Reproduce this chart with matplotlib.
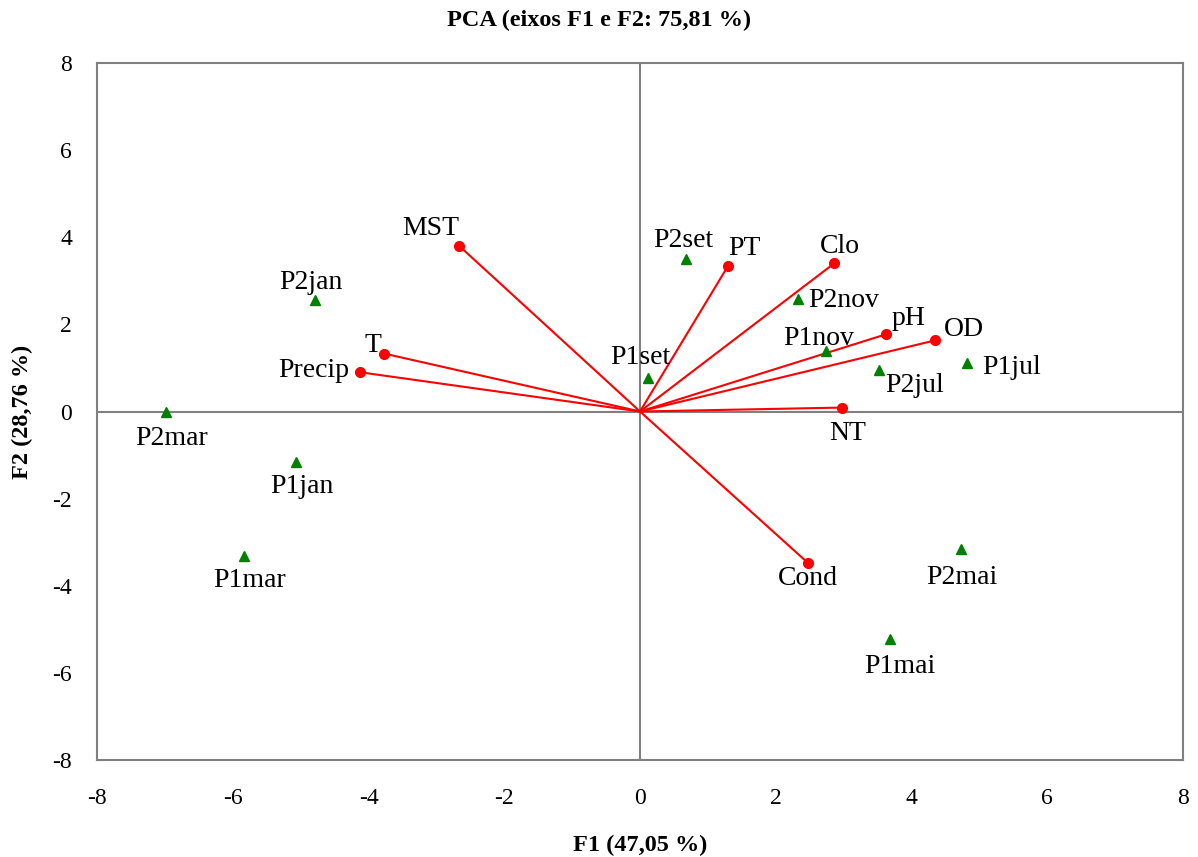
import numpy as np
import matplotlib
matplotlib.use("Agg")
import matplotlib.pyplot as plt

plt.rcParams['font.family'] = ['Liberation Serif', 'DejaVu Serif']
plt.rcParams['axes.unicode_minus'] = False

# variables (vectors, red)
var_names = ["MST", "PT", "Clo", "pH", "OD", "NT", "Cond", "T", "Precip"]
var_f1 = [-2.67, 1.30, 2.86, 3.62, 4.34, 2.97, 2.47, -3.77, -4.12]
var_f2 = [3.81, 3.35, 3.40, 1.77, 1.63, 0.09, -3.47, 1.33, 0.90]

# observations (green triangles)
obs_names = ["P2set", "P2jan", "P2nov", "P1nov", "P1set", "P2jul", "P1jul",
             "P2mar", "P1jan", "P1mar", "P2mai", "P1mai"]
obs_f1 = [0.68, -4.79, 2.33, 2.74, 0.12, 3.52, 4.82, -6.98, -5.07, -5.83, 4.73, 3.68]
obs_f2 = [3.51, 2.55, 2.59, 1.40, 0.78, 0.96, 1.12, -0.02, -1.15, -3.31, -3.15, -5.23]

# label offsets in pixels (dx, dy)
var_off = [(-28, 17), (16, 17), (6, 17), (23, 16), (29, 11), (6, -26), (0, -16), (-11, 8), (-47, 2)]
obs_off = [(-3, 18), (-4, 18), (45, -2), (-7, 12), (-8, 20), (36, -16), (44, -5),
           (5, -26), (6, -25), (5, -25), (1, -29), (10, -27)]

fig = plt.figure(figsize=(11.98, 8.57), dpi=100)
ax = fig.add_axes([97 / 1198, 97 / 857, 1086 / 1198, 697 / 857])

ax.axhline(0, color='#808080', lw=1.5, zorder=1)
ax.axvline(0, color='#808080', lw=1.5, zorder=1)

for x, y in zip(var_f1, var_f2):
    ax.plot([0, x], [0, y], color='red', lw=1.5, zorder=2)
ax.plot(var_f1, var_f2, 'o', color='red', ms=7, zorder=3, linestyle='none')
ax.plot(obs_f1, obs_f2, '^', color='green', ms=6.5, zorder=3, linestyle='none')

for name, x, y, off in zip(var_names, var_f1, var_f2, var_off):
    ax.annotate(name, (x, y), xytext=off, textcoords='offset pixels',
                ha='center', va='center', fontsize=20)
for name, x, y, off in zip(obs_names, obs_f1, obs_f2, obs_off):
    ax.annotate(name, (x, y), xytext=off, textcoords='offset pixels',
                ha='center', va='center', fontsize=20)

ax.set_xlim(-8, 8)
ax.set_ylim(-8, 8)
ax.set_xticks(np.arange(-8, 9, 2))
ax.set_yticks(np.arange(-8, 9, 2))
ax.tick_params(axis='x', length=0, labelsize=17, pad=20)
ax.tick_params(axis='y', length=0, labelsize=17, pad=18)
for s in ax.spines.values():
    s.set_color('#808080')
    s.set_linewidth(1.5)

ax.set_xlabel("F1 (47,05 %)", fontsize=17.5, fontweight='bold', labelpad=19)
ax.set_ylabel("F2 (28,76 %)", fontsize=17.5, fontweight='bold', labelpad=14)
fig.text(0.5, 1 - 20 / 857, "PCA (eixos F1 e F2: 75,81 %)", ha='center', va='center',
         fontsize=17.5, fontweight='bold')

plt.savefig("out.png", dpi=100)
